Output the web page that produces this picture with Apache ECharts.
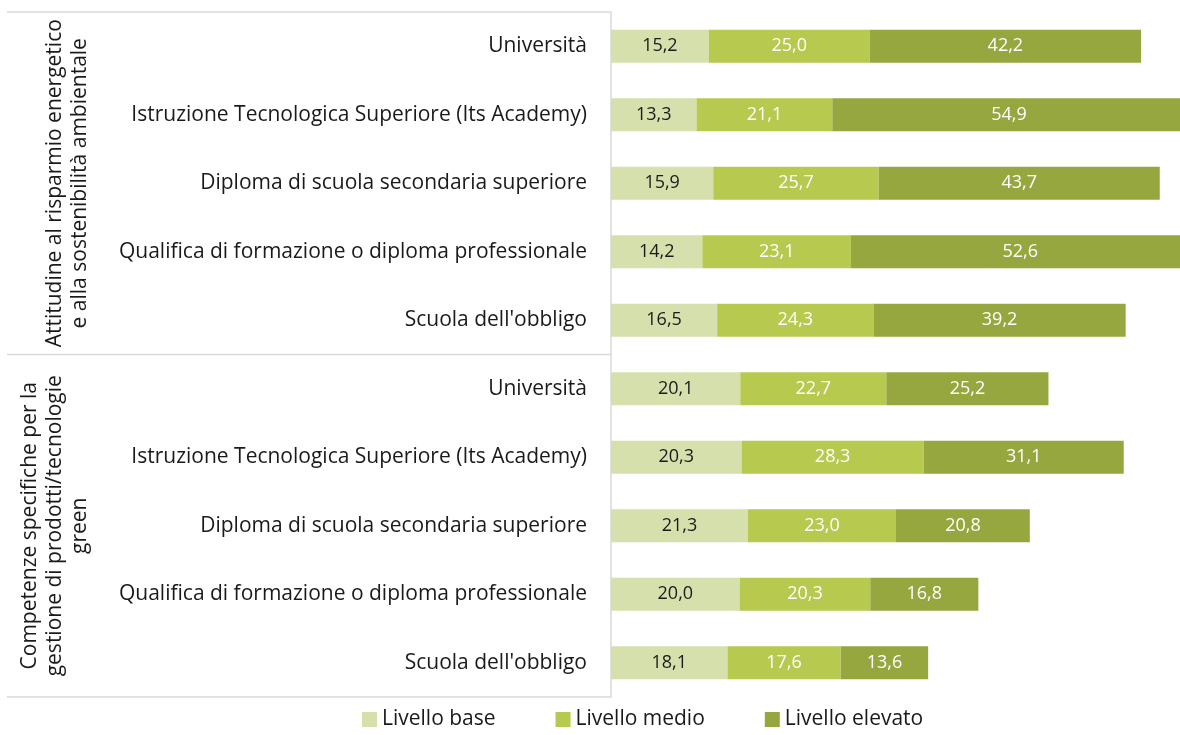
<!DOCTYPE html>
<html>
<head>
<meta charset="utf-8">
<script src="https://cdn.jsdelivr.net/npm/echarts@6/dist/echarts.min.js"></script>
<style>
  html, body { margin: 0; padding: 0; background: #fff; }
  #chartDIV { width: 1180px; height: 735px; }
</style>
</head>
<body>
<div id="chartDIV"></div>
<script>
var categories = [
    "Università",
    "Istruzione Tecnologica Superiore (Its Academy)",
    "Diploma di scuola secondaria superiore",
    "Qualifica di formazione o diploma professionale",
    "Scuola dell'obbligo",
    "Università",
    "Istruzione Tecnologica Superiore (Its Academy)",
    "Diploma di scuola secondaria superiore",
    "Qualifica di formazione o diploma professionale",
    "Scuola dell'obbligo"
];
var livelloBase    = [15.2, 13.3, 15.9, 14.2, 16.5, 20.1, 20.3, 21.3, 20.0, 18.1];
var livelloMedio   = [25.0, 21.1, 25.7, 23.1, 24.3, 22.7, 28.3, 23.0, 20.3, 17.6];
var livelloElevato = [42.2, 54.9, 43.7, 52.6, 39.2, 25.2, 31.1, 20.8, 16.8, 13.6];
var groupLabels = [
    ["Attitudine al risparmio energetico", "e alla sostenibilità ambientale"],
    ["Competenze specifiche per la", "gestione di prodotti/tecnologie", "green"]
];

var font = "'Open Sans', 'Noto Sans', sans-serif";
var gridLeft = 611, gridTop = 12, gridBottom = 38;
var lineColor = '#d9d9d9';

var myChart = echarts.init(document.getElementById('chartDIV'));

function fmt(p) {
    return p.value.toFixed(1).replace('.', ',');
}

function makeSeries(name, data, color, labelColor) {
    return {
        name: name,
        type: 'bar',
        stack: 'tot',
        barWidth: '48%',
        data: data,
        itemStyle: { color: color },
        label: {
            show: true,
            position: 'inside',
            formatter: fmt,
            color: labelColor,
            fontFamily: font,
            fontSize: 18
        }
    };
}

var option = {
    animation: false,
    textStyle: { fontFamily: font },
    grid: {
        left: gridLeft, right: -10, top: gridTop, bottom: gridBottom,
        outerBoundsMode: 'none', containLabel: false
    },
    legend: {
        left: 357,
        bottom: 0,
        itemWidth: 15,
        itemHeight: 15,
        itemGap: 60,
        icon: 'rect',
        textStyle: { fontSize: 21, color: '#1a1a1a', fontFamily: font },
        data: ['Livello base', 'Livello medio', 'Livello elevato']
    },
    xAxis: {
        type: 'value',
        min: 0,
        max: 90,
        show: false
    },
    yAxis: {
        type: 'category',
        inverse: true,
        data: categories,
        axisTick: { show: false },
        axisLine: { show: true, lineStyle: { color: lineColor, width: 1.5 } },
        axisLabel: { margin: 24, fontSize: 21, color: '#1a1a1a', fontFamily: font }
    },
    series: [
        makeSeries('Livello base', livelloBase, '#d6e0ad', '#1a1a1a'),
        makeSeries('Livello medio', livelloMedio, '#b7c94f', '#ffffff'),
        makeSeries('Livello elevato', livelloElevato, '#97a73f', '#ffffff')
    ]
};
myChart.setOption(option);

// group separators and rotated group labels
var plotH = 735 - gridTop - gridBottom;
var half = gridTop + plotH / 2;
var bottomY = gridTop + plotH;
var lines = [gridTop, half, bottomY].map(function (y) {
    return {
        type: 'line',
        shape: { x1: 7, y1: y, x2: gridLeft, y2: y },
        style: { stroke: lineColor, lineWidth: 1.5 }
    };
});
var lineH = 25;
var labels = groupLabels.map(function (t, i) {
    var cy = gridTop + plotH / 4 + i * plotH / 2;
    return {
        type: 'text',
        x: 80 - (t.length - 1) * lineH / 2,
        y: cy,
        rotation: Math.PI / 2,
        style: {
            text: t.join('\n'),
            align: 'center',
            verticalAlign: 'middle',
            fontSize: 21,
            lineHeight: lineH,
            fill: '#1a1a1a',
            fontFamily: font
        }
    };
});
myChart.setOption({ graphic: lines.concat(labels) });
</script>
</body>
</html>
